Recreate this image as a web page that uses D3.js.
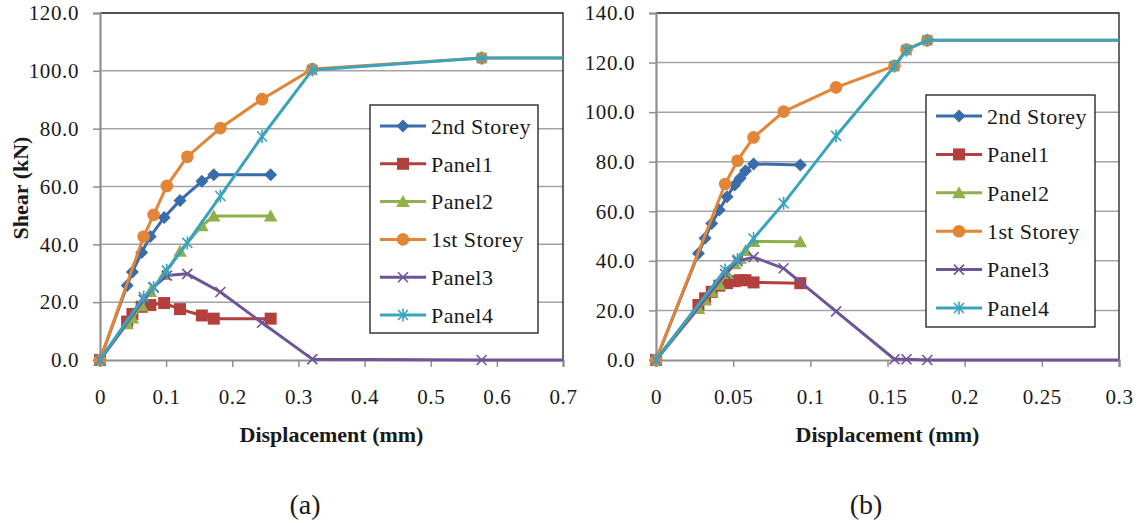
<!DOCTYPE html>
<html>
<head>
<meta charset="utf-8">
<script src="https://cdn.jsdelivr.net/npm/d3@7"></script>
<style>
  body { margin: 0; background: #fff; }
  svg, svg text { font-family: "Liberation Serif", "Times New Roman", Times, "DejaVu Serif", serif; }
  svg { display: block; }
</style>
</head>
<body>
<svg id="chart" width="1143" height="523"></svg>
<script>
// ---------- (a) ----------
// displacement steps for the second storey and its two panels
const dispA2    = [0, 0.041, 0.049, 0.063, 0.076, 0.097, 0.121, 0.154, 0.172, 0.258];
const storey2A  = [0, 25.8, 30.4, 37.2, 42.7, 49.3, 55.2, 61.8, 64.1, 64.1];
const panel1A   = [0, 13.3, 15.9, 18.4, 19.0, 19.7, 17.6, 15.4, 14.3, 14.3];
const panel2A   = [0, 12.5, 14.5, 18.8, 23.7, 29.6, 37.6, 46.4, 49.8, 49.8];
// displacement steps for the first storey and its two panels
const dispA1    = [0, 0.066, 0.081, 0.101, 0.132, 0.182, 0.245, 0.321, 0.577, 0.75];
const storey1A  = [0, 42.7, 50.2, 60.2, 70.3, 80.2, 90.2, 100.6, 104.4, 104.4];
const panel3A   = [0, 20.9, 25.2, 29.2, 29.8, 23.5, 12.9, 0.3, 0, 0];
const panel4A   = [0, 21.8, 25.0, 31.0, 40.5, 56.7, 77.3, 100.3, 104.4, 104.4];
const xTicksA   = [0, 0.1, 0.2, 0.3, 0.4, 0.5, 0.6, 0.7];
const xLabelsA  = ["0", "0.1", "0.2", "0.3", "0.4", "0.5", "0.6", "0.7"];
const yTicksA   = [0, 20, 40, 60, 80, 100, 120];

// ---------- (b) ----------
const dispB2    = [0, 0.0275, 0.0318, 0.0361, 0.041, 0.046, 0.051, 0.0545, 0.058, 0.0632, 0.0935];
const storey2B  = [0, 43.0, 49.1, 55.1, 60.5, 65.9, 70.6, 73.3, 76.4, 79.1, 78.7];
const panel1B   = [0, 22.2, 24.9, 27.5, 30.0, 31.0, 31.8, 32.2, 32.2, 31.3, 31.0];
const panel2B   = [0, 20.8, 24.2, 27.6, 30.5, 34.9, 38.8, 41.1, 44.2, 47.8, 47.7];
const dispB1    = [0, 0.0448, 0.0528, 0.0632, 0.0827, 0.1167, 0.1545, 0.1623, 0.1758, 0.35];
const storey1B  = [0, 71.0, 80.4, 89.8, 100.2, 110.0, 118.7, 125.3, 129.0, 129.0];
const panel3B   = [0, 34.7, 39.9, 41.5, 37.0, 19.6, 0.3, 0.3, 0, 0];
const panel4B   = [0, 36.3, 40.5, 49.0, 63.2, 90.4, 118.5, 125.0, 129.0, 129.0];
const xTicksB   = [0, 0.05, 0.1, 0.15, 0.2, 0.25, 0.3];
const xLabelsB  = ["0", "0.05", "0.1", "0.15", "0.2", "0.25", "0.3"];
const yTicksB   = [0, 20, 40, 60, 80, 100, 120, 140];

const seriesNames = ["2nd Storey", "Panel1", "Panel2", "1st Storey", "Panel3", "Panel4"];
const seriesColors = ["#3a6cab", "#b3403d", "#8fb04b", "#e38536", "#6f5597", "#3aa3bd"];
const seriesMarkers = ["diamond", "square", "triangle", "circle", "cross", "star"];

const FONT = '"Liberation Serif", "Times New Roman", Times, "DejaVu Serif", serif';
const svg = d3.select("#chart");

function markerPath(type) {
  switch (type) {
    case "diamond":  return "M0,-6.5L6.5,0L0,6.5L-6.5,0Z";
    case "square":   return "M-6,-6H6V6H-6Z";
    case "triangle": return "M0,-6.5L6.8,5.5L-6.8,5.5Z";
    case "cross":    return "M-5,-5L5,5M-5,5L5,-5";
    case "star":     return "M-5,-5L5,5M-5,5L5,-5M0,-6.5L0,6.5";
  }
  return null;
}

function drawMarker(g, type, color) {
  if (type === "circle") {
    g.append("circle").attr("r", 6.3).attr("fill", color);
  } else if (type === "cross" || type === "star") {
    g.append("path").attr("d", markerPath(type)).attr("fill", "none")
      .attr("stroke", color).attr("stroke-width", 1.6);
  } else {
    g.append("path").attr("d", markerPath(type)).attr("fill", color);
  }
}

function drawPanel(cfg) {
  const { left, right, top, bottom, xMax, yMax, xTicks, xLabels, yTicks, series, legend, caption, yTitle, id } = cfg;
  const x = d3.scaleLinear().domain([0, xMax]).range([left, right]);
  const y = d3.scaleLinear().domain([0, yMax]).range([bottom, top]);
  const g = svg.append("g").style("font-family", FONT);

  // gridlines
  g.append("g").selectAll("line").data(yTicks.filter(v => v > 0 && v < yMax)).join("line")
    .attr("x1", left).attr("x2", right).attr("y1", d => y(d)).attr("y2", d => y(d))
    .attr("stroke", "#a3a3a3").attr("stroke-width", 1.5);

  // plot-area frame (top and right)
  g.append("path")
    .attr("d", `M${left},${top}H${right}V${bottom}`)
    .attr("fill", "none").attr("stroke", "#1a1a1a").attr("stroke-width", 1.3);

  // y axis
  const yAxis = d3.axisLeft(y).tickValues(yTicks).tickSize(7).tickPadding(14)
    .tickFormat(d3.format(".1f"));
  const ya = g.append("g").attr("transform", `translate(${left},0)`).call(yAxis);
  ya.attr("font-family", null);
  ya.select(".domain").attr("stroke", "#8f8f8f").attr("stroke-width", 2.2);
  ya.selectAll(".tick line").attr("stroke", "#8f8f8f").attr("stroke-width", 1.5);
  ya.selectAll(".tick text").attr("fill", "#1a1a1a").style("font-family", FONT)
    .style("font-size", "21px").attr("letter-spacing", 0.6);

  // x axis
  const xAxis = d3.axisBottom(x).tickValues(xTicks).tickSize(7).tickPadding(22)
    .tickFormat((d, i) => xLabels[i]);
  const xa = g.append("g").attr("transform", `translate(0,${bottom})`).call(xAxis);
  xa.attr("font-family", null);
  xa.select(".domain").attr("stroke", "#8f8f8f").attr("stroke-width", 2.2);
  xa.selectAll(".tick line").attr("stroke", "#8f8f8f").attr("stroke-width", 1.5);
  xa.selectAll(".tick text").attr("fill", "#1a1a1a").style("font-family", FONT)
    .style("font-size", "21px").attr("letter-spacing", 0.6);

  // clip for the series lines
  svg.append("clipPath").attr("id", "clip-" + id).append("rect")
    .attr("x", left).attr("y", top - 10).attr("width", right - left).attr("height", bottom - top + 20);

  const line = d3.line().x(d => x(d[0])).y(d => y(d[1]));
  series.forEach((s, i) => {
    const pts = s.x.map((v, k) => [v, s.y[k]]);
    g.append("path").datum(pts).attr("d", line)
      .attr("fill", "none").attr("stroke", seriesColors[i]).attr("stroke-width", 3)
      .attr("stroke-linejoin", "round").attr("clip-path", `url(#clip-${id})`);
    g.append("g").selectAll("g").data(pts.filter(p => p[0] <= xMax)).join("g")
      .attr("transform", d => `translate(${x(d[0])},${y(d[1])})`)
      .each(function () { drawMarker(d3.select(this), seriesMarkers[i], seriesColors[i]); });
  });

  // legend
  const lg = g.append("g");
  lg.append("rect").attr("x", legend.x).attr("y", legend.y).attr("width", legend.w).attr("height", legend.h)
    .attr("fill", "#fff").attr("stroke", "#1a1a1a").attr("stroke-width", 1.3);
  seriesNames.forEach((name, i) => {
    const cy = legend.y + legend.first + i * legend.step;
    const x0 = legend.x + 10, x1 = x0 + 46;
    lg.append("line").attr("x1", x0).attr("x2", x1).attr("y1", cy).attr("y2", cy)
      .attr("stroke", seriesColors[i]).attr("stroke-width", 3);
    drawMarker(lg.append("g").attr("transform", `translate(${(x0 + x1) / 2},${cy})`), seriesMarkers[i], seriesColors[i]);
    lg.append("text").attr("x", x1 + 5).attr("y", cy).attr("dy", "0.35em")
      .style("font-family", FONT).style("font-size", "22px")
      .attr("fill", "#1a1a1a").attr("letter-spacing", 0.4).text(name);
  });

  // axis titles
  g.append("text").attr("x", (left + right) / 2).attr("y", 434).attr("dy", "0.35em")
    .attr("text-anchor", "middle").style("font-family", FONT).style("font-size", "22px")
    .attr("font-weight", "bold").attr("fill", "#1a1a1a").text("Displacement (mm)");
  if (yTitle) {
    g.append("text").attr("transform", "translate(20,188) rotate(-90)").attr("dy", "0.35em")
      .attr("text-anchor", "middle").style("font-family", FONT).style("font-size", "22px")
      .attr("font-weight", "bold").attr("fill", "#1a1a1a").text(yTitle);
  }
  g.append("text").attr("x", caption).attr("y", 504).attr("dy", "0.35em")
    .attr("text-anchor", "middle").style("font-family", FONT).style("font-size", "28px")
    .attr("fill", "#1a1a1a").text(cfg.captionText);
}

drawPanel({
  id: "a", left: 100, right: 563, top: 13, bottom: 360, xMax: 0.7, yMax: 120,
  xTicks: xTicksA, xLabels: xLabelsA, yTicks: yTicksA, yTitle: "Shear (kN)",
  series: [
    { x: dispA2, y: storey2A }, { x: dispA2, y: panel1A }, { x: dispA2, y: panel2A },
    { x: dispA1, y: storey1A }, { x: dispA1, y: panel3A }, { x: dispA1, y: panel4A }
  ],
  legend: { x: 370, y: 105, w: 168, h: 228, first: 21, step: 37.8 },
  caption: 305, captionText: "(a)"
});

drawPanel({
  id: "b", left: 656, right: 1119, top: 13, bottom: 360, xMax: 0.3, yMax: 140,
  xTicks: xTicksB, xLabels: xLabelsB, yTicks: yTicksB, yTitle: null,
  series: [
    { x: dispB2, y: storey2B }, { x: dispB2, y: panel1B }, { x: dispB2, y: panel2B },
    { x: dispB1, y: storey1B }, { x: dispB1, y: panel3B }, { x: dispB1, y: panel4B }
  ],
  legend: { x: 926, y: 95, w: 169, h: 232, first: 21, step: 38.4 },
  caption: 866, captionText: "(b)"
});
</script>
</body>
</html>
